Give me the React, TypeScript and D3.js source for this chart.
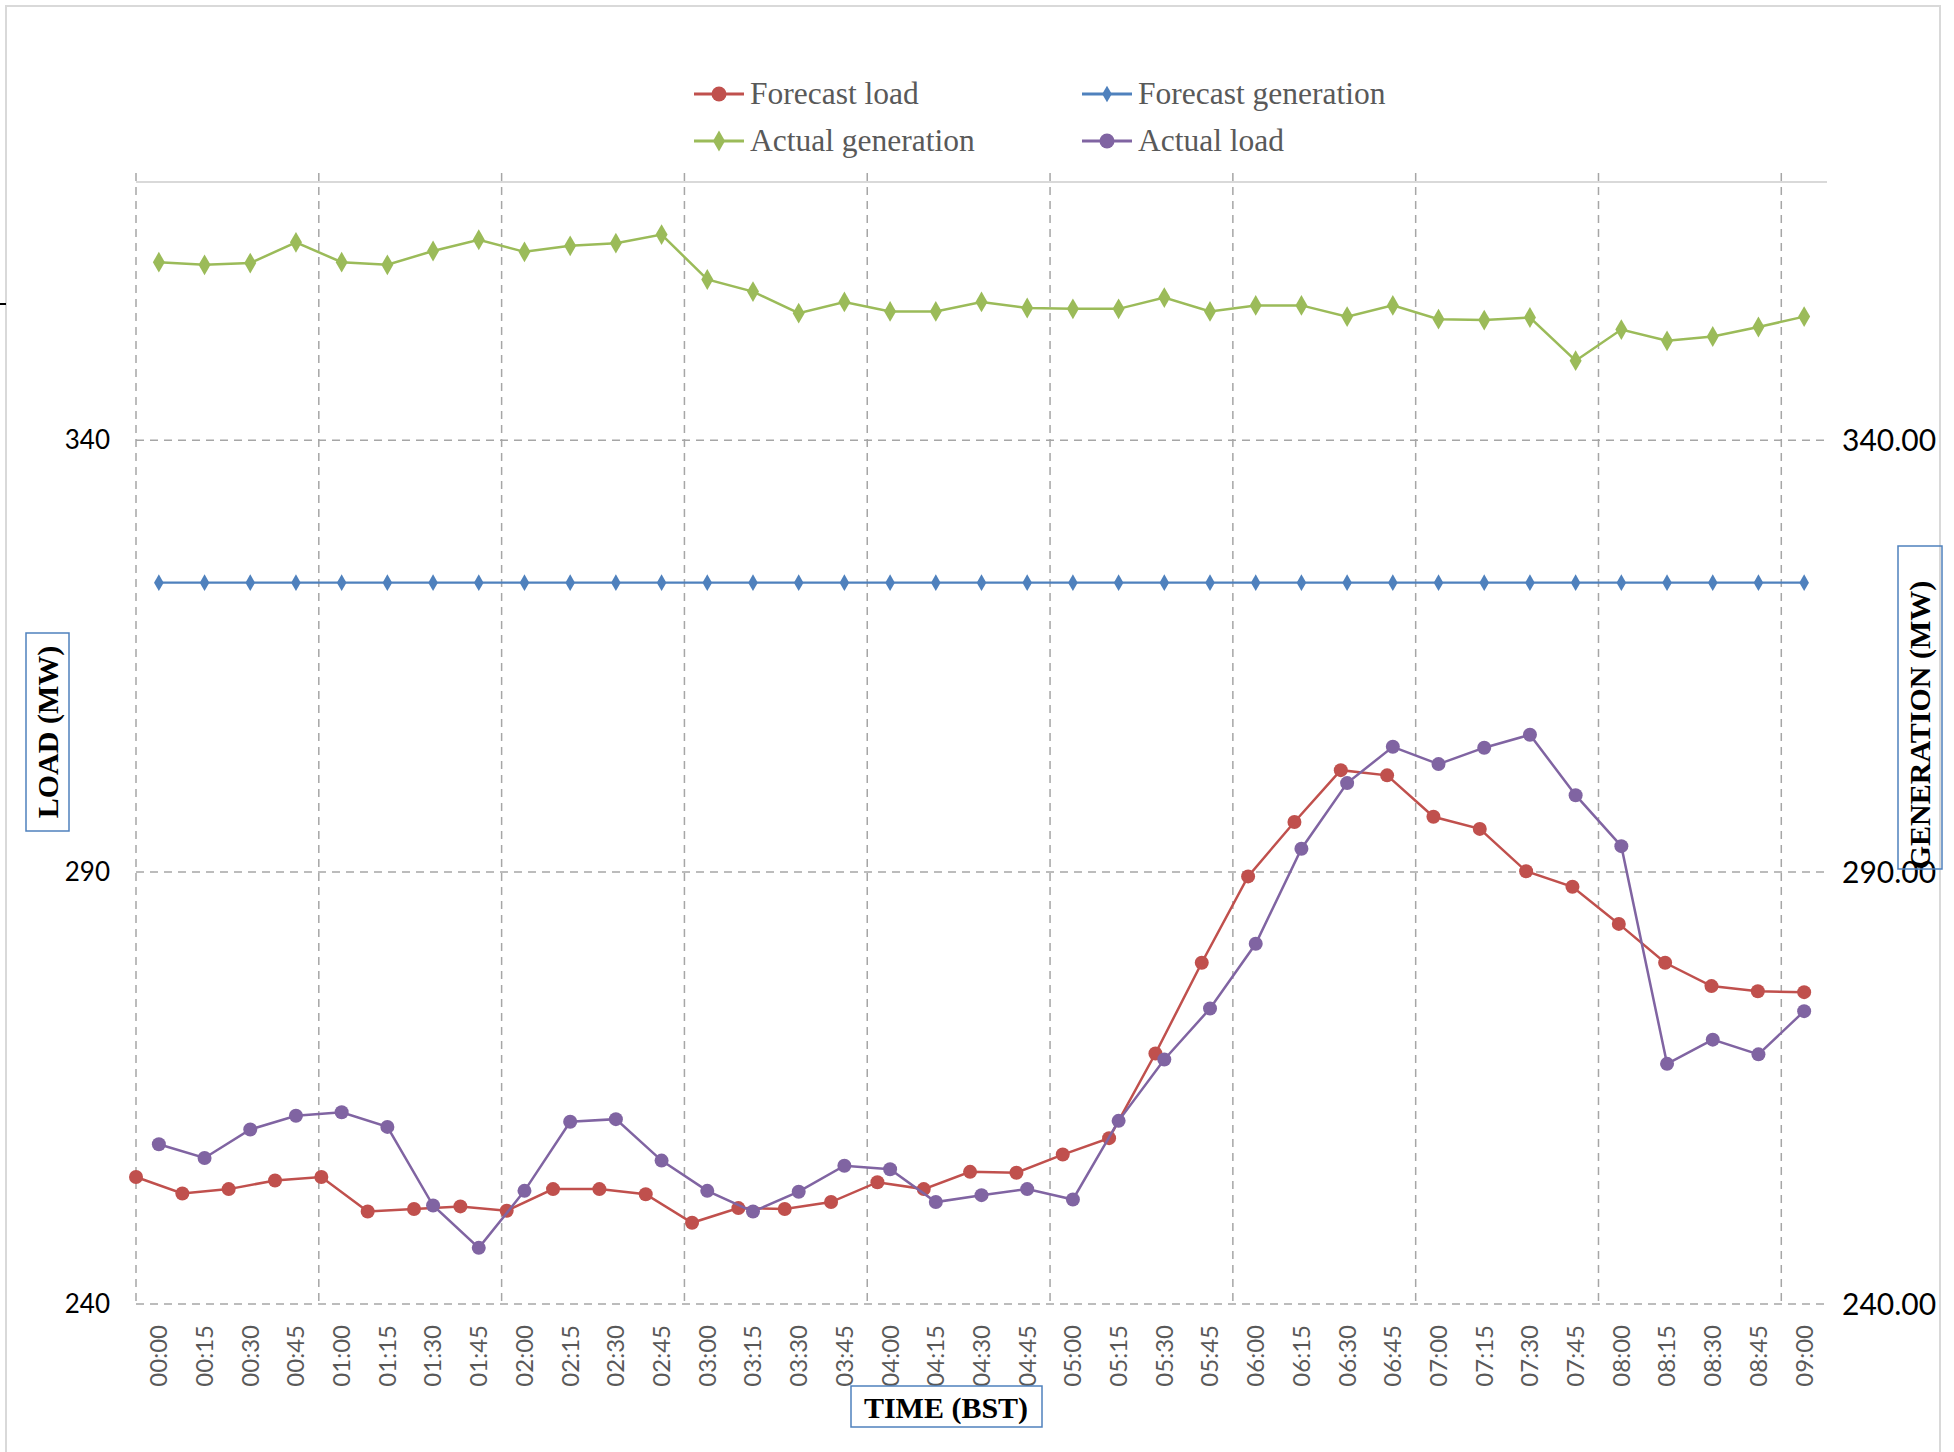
import { scaleBand, scaleLinear, line, symbol, symbolDiamond } from 'd3';

const times = [
  '00:00', '00:15', '00:30', '00:45', '01:00', '01:15', '01:30', '01:45',
  '02:00', '02:15', '02:30', '02:45', '03:00', '03:15', '03:30', '03:45',
  '04:00', '04:15', '04:30', '04:45', '05:00', '05:15', '05:30', '05:45',
  '06:00', '06:15', '06:30', '06:45', '07:00', '07:15', '07:30', '07:45',
  '08:00', '08:15', '08:30', '08:45', '09:00',
];

const forecastLoad = [
  254.7, 252.8, 253.3, 254.3, 254.7, 250.7, 251.0, 251.3, 250.8, 253.3,
  253.3, 252.7, 249.4, 251.1, 251.0, 251.8, 254.1, 253.3, 255.3, 255.2,
  257.3, 259.2, 269.0, 279.5, 289.5, 295.8, 301.8, 301.2, 296.4, 295.0,
  290.1, 288.3, 284.0, 279.5, 276.8, 276.2, 276.1,
];

const actualLoad = [
  258.5, 256.9, 260.2, 261.8, 262.2, 260.5, 251.4, 246.5, 253.1, 261.1,
  261.4, 256.6, 253.1, 250.7, 253.0, 256.0, 255.6, 251.8, 252.6, 253.3,
  252.1, 261.2, 268.3, 274.2, 281.7, 292.7, 300.3, 304.5, 302.5, 304.4,
  305.9, 298.9, 293.0, 267.8, 270.6, 268.9, 273.9,
];

const forecastGeneration = [
  323.5, 323.5, 323.5, 323.5, 323.5, 323.5, 323.5, 323.5, 323.5, 323.5,
  323.5, 323.5, 323.5, 323.5, 323.5, 323.5, 323.5, 323.5, 323.5, 323.5,
  323.5, 323.5, 323.5, 323.5, 323.5, 323.5, 323.5, 323.5, 323.5, 323.5,
  323.5, 323.5, 323.5, 323.5, 323.5, 323.5, 323.5,
];

const actualGeneration = [
  360.6, 360.3, 360.5, 362.9, 360.6, 360.3, 361.9, 363.2, 361.8, 362.5,
  362.8, 363.8, 358.6, 357.2, 354.7, 356.0, 354.9, 354.9, 356.0, 355.3,
  355.2, 355.2, 356.5, 354.9, 355.6, 355.6, 354.3, 355.6, 354.0, 353.9,
  354.2, 349.2, 352.8, 351.5, 352.0, 353.1, 354.3,
];

const loadTicks = [240, 290, 340];
const genTicks = [240, 290, 340];

const RED = '#c0504d';
const BLUE = '#4f81bd';
const GREEN = '#9bbb59';
const PURPLE = '#8064a2';
const GRID = '#a6a6a6';
const SERIF = '"Liberation Serif", "Times New Roman", serif';
const SANS = 'Lato, "Open Sans", sans-serif';

const left = 136;
const right = 1827;
const top = 182;
const bottom = 1304;

export default function App() {
  const x = scaleBand().domain(times).range([left, right]).paddingInner(0).paddingOuter(0);
  const xc = (t) => x(t) + x.bandwidth() / 2;
  // forecast load sits on its own horizontal axis, starting at the left edge
  const xRed = scaleLinear().domain([0, times.length - 1]).range([left, xc(times[times.length - 1])]);
  const yLoad = scaleLinear().domain([240, 370]).range([bottom, top - 1]);
  const yGen = scaleLinear().domain([240, 370]).range([bottom, top - 1]);

  const redLine = line().x((d, i) => xRed(i)).y((d) => yLoad(d));
  const loadLine = line().x((d, i) => xc(times[i])).y((d) => yLoad(d));
  const genLine = line().x((d, i) => xc(times[i])).y((d) => yGen(d));

  const bigDiamond = symbol().type(symbolDiamond).size(125)();
  const smallDiamond = symbol().type(symbolDiamond).size(80)();

  const gridX = times.map((t, i) => i).filter((i) => i % 4 === 0).map((i) => x(times[i]));

  const legend = [
    { name: 'Forecast load', color: RED, marker: 'circle', lx: 694, ly: 94 },
    { name: 'Forecast generation', color: BLUE, marker: 'small', lx: 1082, ly: 94 },
    { name: 'Actual generation', color: GREEN, marker: 'big', lx: 694, ly: 141 },
    { name: 'Actual load', color: PURPLE, marker: 'circle', lx: 1082, ly: 141 },
  ];

  return (
    <svg width={1954} height={1452} style={{ position: 'absolute', left: 0, top: 0, background: '#fff' }}>
      <rect x={6} y={6} width={1934} height={1470} fill="#fff" stroke="#d9d9d9" strokeWidth={2} />
      <line x1={0} x2={6} y1={304} y2={304} stroke="#000" strokeWidth={2} />

      {/* legend */}
      {legend.map((l) => (
        <g key={l.name}>
          <line x1={l.lx} x2={l.lx + 50} y1={l.ly} y2={l.ly} stroke={l.color} strokeWidth={3} />
          {l.marker === 'circle' ? (
            <circle cx={l.lx + 25} cy={l.ly} r={7.5} fill={l.color} />
          ) : (
            <path d={l.marker === 'big' ? bigDiamond : smallDiamond} transform={`translate(${l.lx + 25},${l.ly})`} fill={l.color} />
          )}
          <text x={l.lx + 56} y={l.ly + 10} fontFamily={SERIF} fontSize={31.5} fill="#595959">{l.name}</text>
        </g>
      ))}

      {/* gridlines */}
      {gridX.map((gx) => (
        <line key={gx} x1={gx} x2={gx} y1={top - 9} y2={bottom} stroke={GRID} strokeWidth={1.5} strokeDasharray="8,6" />
      ))}
      {loadTicks.map((v) => (
        <line key={v} x1={left} x2={right} y1={yLoad(v)} y2={yLoad(v)} stroke={GRID} strokeWidth={1.5} strokeDasharray="8,6" />
      ))}
      <line x1={left} x2={right} y1={top} y2={top} stroke="#d9d9d9" strokeWidth={2} />

      {/* y tick labels */}
      {loadTicks.map((v) => (
        <text key={v} x={110} y={yLoad(v)} dy="0.35em" textAnchor="end" fontFamily={SANS} fontSize={26} fill="#000">{v}</text>
      ))}
      {genTicks.map((v) => (
        <text key={v} x={1842} y={yGen(v)} dy="0.35em" textAnchor="start" fontFamily={SANS} fontSize={30} fill="#000">{v.toFixed(2)}</text>
      ))}

      {/* x tick labels */}
      {times.map((t) => (
        <text key={t} transform={`translate(${xc(t)},1325) rotate(-90)`} textAnchor="end" dy="0.35em" fontFamily={SANS} fontSize={24} fill="#595959">{t}</text>
      ))}

      {/* series */}
      <path d={genLine(actualGeneration)} fill="none" stroke={GREEN} strokeWidth={2.5} />
      {actualGeneration.map((d, i) => (
        <path key={i} d={bigDiamond} transform={`translate(${xc(times[i])},${yGen(d)})`} fill={GREEN} />
      ))}
      <path d={genLine(forecastGeneration)} fill="none" stroke={BLUE} strokeWidth={2.2} />
      {forecastGeneration.map((d, i) => (
        <path key={i} d={smallDiamond} transform={`translate(${xc(times[i])},${yGen(d)})`} fill={BLUE} />
      ))}
      <path d={redLine(forecastLoad)} fill="none" stroke={RED} strokeWidth={2.5} />
      {forecastLoad.map((d, i) => (
        <circle key={i} cx={xRed(i)} cy={yLoad(d)} r={7} fill={RED} />
      ))}
      <path d={loadLine(actualLoad)} fill="none" stroke={PURPLE} strokeWidth={2.5} />
      {actualLoad.map((d, i) => (
        <circle key={i} cx={xc(times[i])} cy={yLoad(d)} r={7} fill={PURPLE} />
      ))}

      {/* axis titles */}
      <g transform="translate(47,732) rotate(-90)">
        <rect x={-99} y={-21} width={198} height={43} fill="#fff" stroke={BLUE} strokeWidth={1.5} />
        <text textAnchor="middle" dy="0.35em" fontFamily={SERIF} fontWeight="bold" fontSize={30} fill="#000">LOAD (MW)</text>
      </g>
      <g transform="translate(1919,707) rotate(-90)">
        <rect x={-162} y={-21} width={323} height={44} fill="none" stroke={BLUE} strokeWidth={1.5} />
        <text x={-18} textAnchor="middle" dy="0.35em" fontFamily={SERIF} fontWeight="bold" fontSize={30} fill="#000">GENERATION (MW)</text>
      </g>
      <rect x={851} y={1386} width={191} height={41} fill="#fff" stroke={BLUE} strokeWidth={1.5} />
      <text x={946} y={1407} dy="0.35em" textAnchor="middle" fontFamily={SERIF} fontWeight="bold" fontSize={30} fill="#000">TIME (BST)</text>
    </svg>
  );
}
